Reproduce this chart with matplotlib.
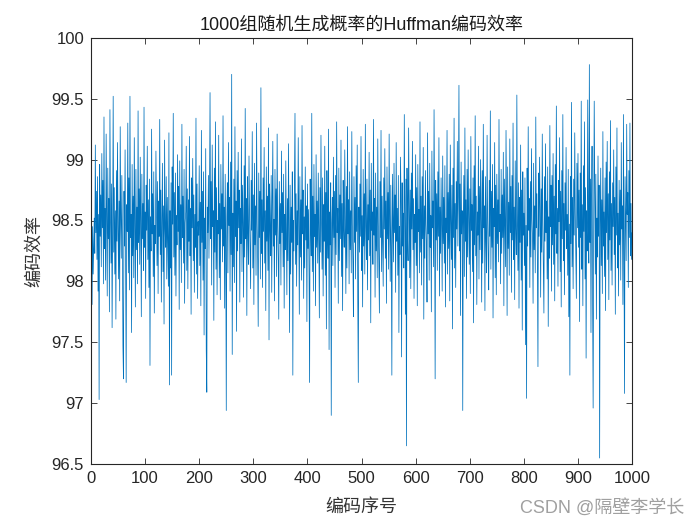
import numpy as np
import matplotlib
matplotlib.use("Agg")
import matplotlib.pyplot as plt

plt.rcParams['font.family'] = ['Liberation Sans', 'Noto Sans CJK SC', 'DejaVu Sans']

# coding efficiency (%) for each of the 1000 random probability sets
efficiency = [
  98.62, 97.81, 98.45, 98.06, 98.31, 98.52, 98.23, 99.12, 98.40, 98.74, 98.18, 98.86, 97.92, 98.55, 97.03, 98.96, 98.37, 98.71, 98.12, 99.05,
  98.44, 98.83, 97.98, 99.35, 98.27, 98.60, 98.01, 99.21, 98.49, 97.88, 98.93, 98.35, 98.68, 97.75, 99.41, 98.52, 98.15, 98.80, 97.62, 98.39,
  99.52, 98.24, 98.77, 98.06, 98.58, 97.69, 98.91, 98.33, 99.14, 98.45, 98.02, 98.66, 97.84, 99.27, 98.51, 98.19, 98.87, 98.38, 97.47, 97.20,
  98.74, 98.29, 99.08, 98.12, 97.17, 98.63, 98.41, 99.30, 98.07, 98.85, 97.93, 99.52, 98.36, 98.55, 97.58, 98.96, 98.21, 98.70, 98.03, 99.18,
  98.47, 97.79, 98.92, 98.26, 98.61, 97.98, 99.40, 98.32, 98.76, 98.14, 99.02, 98.50, 97.71, 98.88, 98.35, 98.64, 98.09, 99.43, 98.28, 98.57,
  97.86, 98.79, 98.42, 99.11, 98.18, 98.67, 97.95, 98.84, 97.31, 98.53, 98.25, 99.25, 98.39, 98.72, 98.04, 98.90, 97.74, 98.46, 98.31, 99.07,
  98.59, 98.13, 98.82, 97.90, 98.66, 98.37, 99.33, 98.22, 98.75, 97.83, 98.51, 98.97, 98.08, 98.62, 97.65, 99.16, 98.43, 98.28, 98.86, 98.02,
  98.69, 98.34, 97.96, 99.22, 97.15, 98.58, 98.11, 98.81, 97.23, 98.94, 98.47, 99.38, 98.20, 98.73, 98.05, 98.89, 97.88, 98.54, 98.30, 99.04,
  98.41, 98.78, 97.77, 98.99, 98.26, 98.63, 97.99, 99.29, 98.36, 98.70, 98.15, 98.92, 97.82, 98.48, 98.57, 99.11, 98.09, 98.76, 97.94, 98.67,
  98.33, 99.19, 98.21, 98.60, 97.73, 98.85, 98.44, 99.01, 98.17, 98.71, 97.91, 98.55, 98.28, 99.34, 98.06, 98.80, 97.86, 98.49, 98.38, 98.95,
  98.13, 98.65, 97.80, 99.24, 98.32, 98.74, 98.01, 98.90, 97.56, 98.52, 98.27, 99.09, 97.44, 97.09, 98.61, 98.40, 98.87, 98.19, 98.69, 99.55,
  98.35, 98.82, 97.97, 99.12, 98.45, 98.58, 97.68, 98.93, 98.24, 99.31, 98.10, 98.77, 97.89, 98.50, 98.39, 99.20, 98.03, 98.64, 97.85, 98.96,
  98.43, 98.72, 98.16, 99.36, 98.29, 98.61, 97.78, 98.88, 98.34, 96.94, 98.53, 98.81, 98.07, 99.14, 98.46, 98.69, 97.92, 98.98, 98.22, 99.70,
  97.40, 98.56, 98.12, 98.84, 97.99, 99.27, 98.37, 98.66, 97.59, 98.91, 98.25, 99.06, 98.44, 98.75, 97.83, 98.60, 98.31, 99.17, 98.08, 98.79,
  98.48, 97.87, 98.95, 98.20, 99.42, 98.35, 98.68, 97.72, 98.86, 98.40, 98.14, 99.03, 98.55, 98.27, 97.94, 98.83, 98.42, 99.23, 98.11, 98.71,
  97.81, 98.97, 98.30, 98.62, 98.05, 99.30, 98.49, 98.18, 97.63, 98.89, 98.36, 98.74, 98.02, 99.59, 98.23, 98.67, 97.95, 98.85, 98.41, 99.10,
  98.15, 98.58, 97.76, 98.94, 98.33, 98.70, 98.09, 99.26, 97.52, 98.80, 98.45, 98.21, 98.87, 97.91, 98.63, 99.15, 98.29, 98.51, 97.84, 98.92,
  98.38, 98.76, 98.04, 99.21, 98.47, 98.19, 97.69, 98.82, 98.31, 98.64, 97.97, 99.07, 98.40, 98.73, 98.12, 98.88, 97.78, 98.55, 98.26, 98.99,
  98.44, 97.89, 98.68, 98.17, 99.13, 98.36, 97.58, 98.79, 98.06, 98.61, 98.32, 98.90, 97.23, 98.50, 98.25, 98.83, 99.38, 98.14, 98.72, 97.96,
  98.58, 98.30, 99.18, 98.43, 97.73, 98.86, 98.20, 98.67, 98.01, 99.28, 98.39, 98.75, 97.86, 98.53, 98.11, 98.94, 98.34, 98.62, 97.67, 98.80,
  98.27, 98.59, 98.03, 97.17, 98.84, 98.46, 98.21, 99.38, 98.08, 98.70, 97.92, 98.96, 98.37, 98.55, 97.80, 99.04, 98.28, 98.66, 98.15, 98.89,
  98.42, 97.70, 98.77, 98.24, 99.20, 98.51, 98.10, 98.85, 97.88, 98.63, 98.33, 99.11, 98.05, 98.73, 97.61, 98.91, 98.45, 98.19, 99.25, 97.44,
  98.57, 98.30, 98.81, 96.90, 98.48, 98.69, 98.13, 99.02, 98.36, 98.74, 97.95, 98.87, 98.22, 99.31, 98.40, 98.60, 97.82, 98.93, 98.17, 98.71,
  98.35, 99.16, 98.04, 98.64, 97.76, 98.83, 98.44, 98.28, 99.08, 98.52, 97.90, 98.78, 98.11, 99.27, 98.39, 98.67, 97.98, 98.90, 98.26, 98.58,
  98.07, 99.23, 98.47, 98.15, 97.71, 98.86, 98.32, 98.69, 98.02, 98.95, 98.41, 99.12, 97.85, 97.17, 98.61, 98.24, 98.80, 98.37, 99.19, 98.09,
  98.54, 97.79, 98.92, 98.29, 98.72, 98.06, 99.29, 98.45, 98.18, 98.84, 97.93, 98.63, 98.34, 99.06, 98.21, 98.75, 97.66, 98.97, 98.42, 98.57,
  98.14, 99.33, 98.38, 98.68, 97.87, 98.89, 98.25, 98.61, 98.03, 99.17, 98.49, 98.12, 97.74, 98.82, 98.36, 99.24, 98.08, 98.70, 98.31, 97.96,
  98.85, 98.43, 99.09, 98.19, 98.66, 97.82, 98.94, 98.35, 98.73, 98.10, 99.21, 98.46, 98.00, 98.79, 98.27, 97.23, 98.88, 98.52, 98.16, 98.97,
  98.40, 98.71, 97.91, 99.14, 98.33, 98.60, 98.05, 98.87, 97.58, 98.45, 98.22, 99.02, 98.64, 97.38, 98.81, 98.29, 98.56, 98.11, 99.37, 98.49,
  97.73, 98.84, 96.65, 98.93, 98.38, 98.17, 99.26, 98.62, 98.03, 98.75, 97.94, 98.89, 98.43, 99.15, 98.26, 98.68, 97.86, 98.55, 98.32, 99.04,
  98.13, 98.77, 97.80, 98.96, 98.41, 98.59, 98.07, 99.31, 98.24, 98.70, 97.97, 98.86, 98.35, 99.10, 97.69, 98.62, 98.19, 98.91, 98.47, 98.30,
  97.83, 99.22, 98.39, 98.74, 98.01, 98.97, 98.28, 98.54, 97.75, 99.07, 98.44, 98.66, 98.12, 99.41, 98.58, 97.20, 98.83, 98.34, 98.72, 98.09,
  98.90, 98.37, 99.18, 97.88, 98.61, 98.23, 98.85, 98.46, 97.92, 99.03, 98.31, 98.69, 98.15, 98.95, 97.79, 98.52, 98.40, 99.24, 98.06, 98.73,
  98.27, 98.88, 97.84, 99.12, 98.50, 98.18, 98.79, 97.61, 98.93, 98.36, 99.34, 98.11, 98.64, 97.95, 98.82, 98.43, 99.15, 98.29, 98.71, 99.61,
  98.25, 98.80, 97.72, 98.98, 98.39, 98.58, 96.94, 98.47, 98.87, 98.04, 99.26, 98.33, 98.67, 97.86, 98.92, 98.20, 99.08, 98.53, 98.14, 98.76,
  97.90, 99.19, 98.42, 98.63, 98.08, 98.85, 97.66, 98.95, 98.30, 99.36, 98.21, 98.70, 97.81, 98.57, 98.38, 99.11, 98.02, 98.78, 98.26, 99.00,
  98.48, 97.83, 98.91, 98.15, 99.29, 98.44, 98.62, 97.76, 98.86, 98.33, 98.07, 99.20, 98.52, 98.19, 97.93, 98.83, 98.37, 99.40, 98.10, 98.74,
  98.28, 98.96, 97.70, 98.60, 98.45, 99.14, 98.03, 98.79, 97.89, 98.88, 98.31, 98.67, 98.16, 99.33, 98.41, 98.55, 97.98, 98.92, 98.23, 98.71,
  98.36, 99.06, 97.80, 98.84, 98.47, 98.12, 99.24, 98.58, 97.72, 98.94, 98.27, 98.65, 98.05, 99.17, 98.40, 98.78, 97.91, 98.87, 98.34, 99.30,
  98.18, 98.61, 97.85, 98.99, 98.43, 98.22, 99.53, 98.50, 98.09, 98.81, 97.78, 98.69, 98.32, 99.12, 98.01, 98.75, 97.60, 98.90, 98.38, 98.56,
  98.13, 98.85, 97.48, 98.46, 97.04, 98.93, 98.29, 99.27, 98.42, 98.68, 97.95, 98.82, 98.20, 99.09, 98.51, 98.35, 97.82, 98.97, 98.26, 98.62,
  98.07, 99.35, 98.44, 98.72, 98.15, 97.30, 98.89, 98.37, 99.02, 98.58, 97.87, 98.76, 98.24, 99.21, 98.48, 98.11, 97.74, 98.86, 98.33, 99.13,
  98.40, 98.66, 98.02, 98.94, 97.63, 98.53, 98.19, 99.28, 98.45, 98.79, 97.92, 98.87, 98.30, 99.05, 98.14, 98.70, 97.84, 98.96, 98.39, 99.44,
  98.23, 98.60, 97.96, 98.83, 98.49, 99.18, 98.08, 98.74, 97.79, 98.91, 98.35, 99.37, 98.17, 98.64, 97.89, 98.81, 98.42, 99.10, 98.27, 98.55,
  98.05, 98.92, 97.71, 98.47, 97.23, 98.86, 98.31, 99.47, 98.12, 98.69, 97.94, 98.84, 98.38, 99.22, 98.56, 98.21, 97.86, 98.97, 98.44, 99.05,
  98.28, 98.75, 97.67, 98.89, 98.36, 99.48, 98.10, 98.63, 97.80, 98.95, 98.41, 99.31, 98.02, 98.77, 97.37, 98.58, 98.25, 99.49, 98.48, 98.15,
  99.78, 98.32, 98.84, 97.58, 98.61, 99.11, 97.84, 96.96, 98.43, 99.48, 98.70, 98.06, 98.88, 97.69, 98.52, 98.20, 99.03, 98.37, 98.79, 96.55,
  98.46, 98.93, 98.13, 98.67, 97.90, 99.23, 98.29, 98.57, 98.04, 98.85, 97.76, 98.98, 98.40, 99.15, 98.18, 98.72, 97.85, 98.90, 98.34, 99.32,
  98.09, 98.64, 97.97, 98.81, 98.45, 99.08, 98.22, 98.69, 97.73, 98.94, 98.38, 99.26, 98.11, 98.56, 97.88, 98.83, 98.30, 98.75, 98.01, 99.14,
  98.43, 98.62, 97.81, 99.37, 98.27, 97.08, 98.86, 98.48, 98.17, 99.29, 98.55, 98.73, 97.95, 98.91, 98.36, 99.30, 98.21, 98.64, 98.18, 98.40,
]
index = np.arange(1, len(efficiency) + 1)

xticks = [0, 100, 200, 300, 400, 500, 600, 700, 800, 900, 1000]
yticks = [96.5, 97, 97.5, 98, 98.5, 99, 99.5, 100]
ytick_labels = ['96.5', '97', '97.5', '98', '98.5', '99', '99.5', '100']

fig = plt.figure(figsize=(7, 5.25), dpi=100)
ax = fig.add_axes([0.13, 0.116, 0.773, 0.812])
ax.plot(index, efficiency, color='#0072BD', linewidth=0.55)

ax.set_xlim(0, 1000)
ax.set_ylim(96.5, 100)
ax.set_xticks(xticks)
ax.set_yticks(yticks)
ax.set_yticklabels(ytick_labels)
ax.tick_params(direction='in', top=True, right=True, length=4, width=0.6,
               labelsize=12, colors='#262626', pad=5)
for sp in ax.spines.values():
  sp.set_linewidth(0.8)
  sp.set_color('#262626')

ax.set_title('1000组随机生成概率的Huffman编码效率', fontsize=13, color='#1a1a1a', pad=6)
ax.set_xlabel('编码序号', fontsize=13, color='#333333', labelpad=9)
ax.set_ylabel('编码效率', fontsize=13, color='#333333', labelpad=6)

fig.text(0.978, 0.033, 'CSDN @隔壁李学长', ha='right', va='center', fontsize=13, color='#a0a0a0')

fig.savefig('out.png', dpi=100, facecolor='white')
